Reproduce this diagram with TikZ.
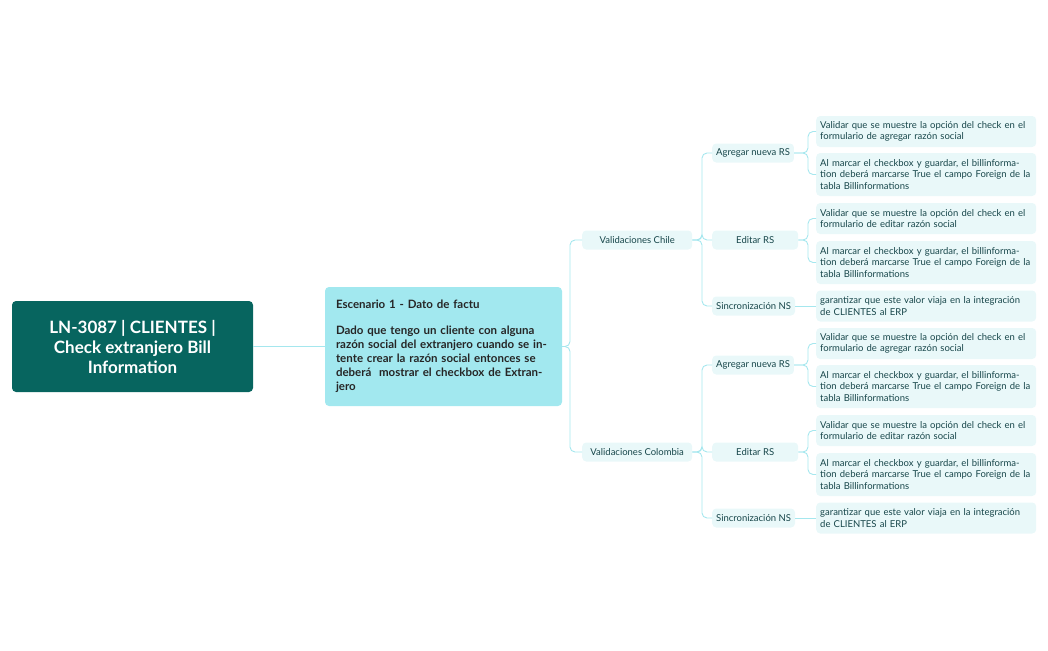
\documentclass[tikz,border=0pt]{standalone}
\usepackage{fontspec}
\setmainfont{Lato}
\definecolor{rootc}{HTML}{07655F}
\definecolor{scen}{HTML}{A2E8EF}
\definecolor{leafc}{HTML}{E9F8F9}
\definecolor{linec}{HTML}{A5E7EE}
\definecolor{txt}{HTML}{17464A}
\begin{document}
\begin{tikzpicture}[x=1pt,y=-1pt,
 root/.style={fill=rootc,rounded corners=4pt,text=white,font=\bfseries\fontsize{17}{20}\selectfont,align=center,minimum width=241pt,minimum height=91pt,inner sep=0pt},
 scenbox/.style={fill=scen,rounded corners=4pt,text=black!85,font=\bfseries\fontsize{11.5}{14}\selectfont,align=left,text width=215pt,minimum height=119pt,inner xsep=11pt,inner ysep=0pt},
 mid/.style={fill=leafc,rounded corners=4pt,text=txt,font=\fontsize{9.5}{11.5}\selectfont,minimum height=19pt,anchor=west,inner xsep=4pt},
 leaf/.style={fill=leafc,rounded corners=4pt,text=txt,font=\fontsize{9.5}{11.5}\selectfont,align=left,text width=212pt,inner xsep=4pt,anchor=west},
 conn/.style={draw=linec,line width=0.9pt,rounded corners=5pt}]
\useasboundingbox (0,0) rectangle (1048,650);
\node[root] (r) at (132.5,346.5) {LN-3087 | CLIENTES |\\Check extranjero Bill\\Information};
\node[scenbox] (s) at (443.5,346.5) {Escenario 1 - Dato de factu\\[12pt]Dado que tengo un cliente con alguna razón social del extranjero cuando se intente crear la razón social entonces se deberá\ \ mostrar el checkbox de Extranjero};
\draw[conn] (r.east) -- (s.west);
\foreach \n/\lab/\dy in {ch/Validaciones Chile/0, co/Validaciones Colombia/212}{
 \node[mid,minimum width=110pt] (\n) at (582,240+\dy) {\lab};
 \draw[conn] (s.east) -- (570,346.5) |- (\n.west);
 \node[mid] (\n a) at (712,153+\dy) {Agregar nueva RS};
 \node[mid,minimum width=86pt] (\n e) at (712,240+\dy) {Editar RS};
 \node[mid] (\n s) at (712,306+\dy) {Sincronización NS};
 \foreach \k in {a,e,s}{\draw[conn] (\n.east) -- (702,240+\dy) |- (\n\k.west);}
 \node[leaf,minimum height=31pt] (\n1) at (816,131.5+\dy) {Validar que se muestre la opción del check en el formulario de agregar razón social};
 \node[leaf,minimum height=43pt] (\n2) at (816,174.5+\dy) {Al marcar el checkbox y guardar, el billinformation deberá marcarse True el campo Foreign de la tabla Billinformations};
 \node[leaf,minimum height=31pt] (\n3) at (816,218.5+\dy) {Validar que se muestre la opción del check en el formulario de editar razón social};
 \node[leaf,minimum height=43pt] (\n4) at (816,262.5+\dy) {Al marcar el checkbox y guardar, el billinformation deberá marcarse True el campo Foreign de la tabla Billinformations};
 \node[leaf,minimum height=31pt] (\n5) at (816,306+\dy) {garantizar que este valor viaja en la integración de CLIENTES al ERP};
 \draw[conn] (\n a.east) -- (808,153+\dy) |- (\n1.west);
 \draw[conn] (\n a.east) -- (808,153+\dy) |- (\n2.west);
 \draw[conn] (\n e.east) -- (808,240+\dy) |- (\n3.west);
 \draw[conn] (\n e.east) -- (808,240+\dy) |- (\n4.west);
 \draw[conn] (\n s.east) -- (\n5.west);
}
\end{tikzpicture}
\end{document}
